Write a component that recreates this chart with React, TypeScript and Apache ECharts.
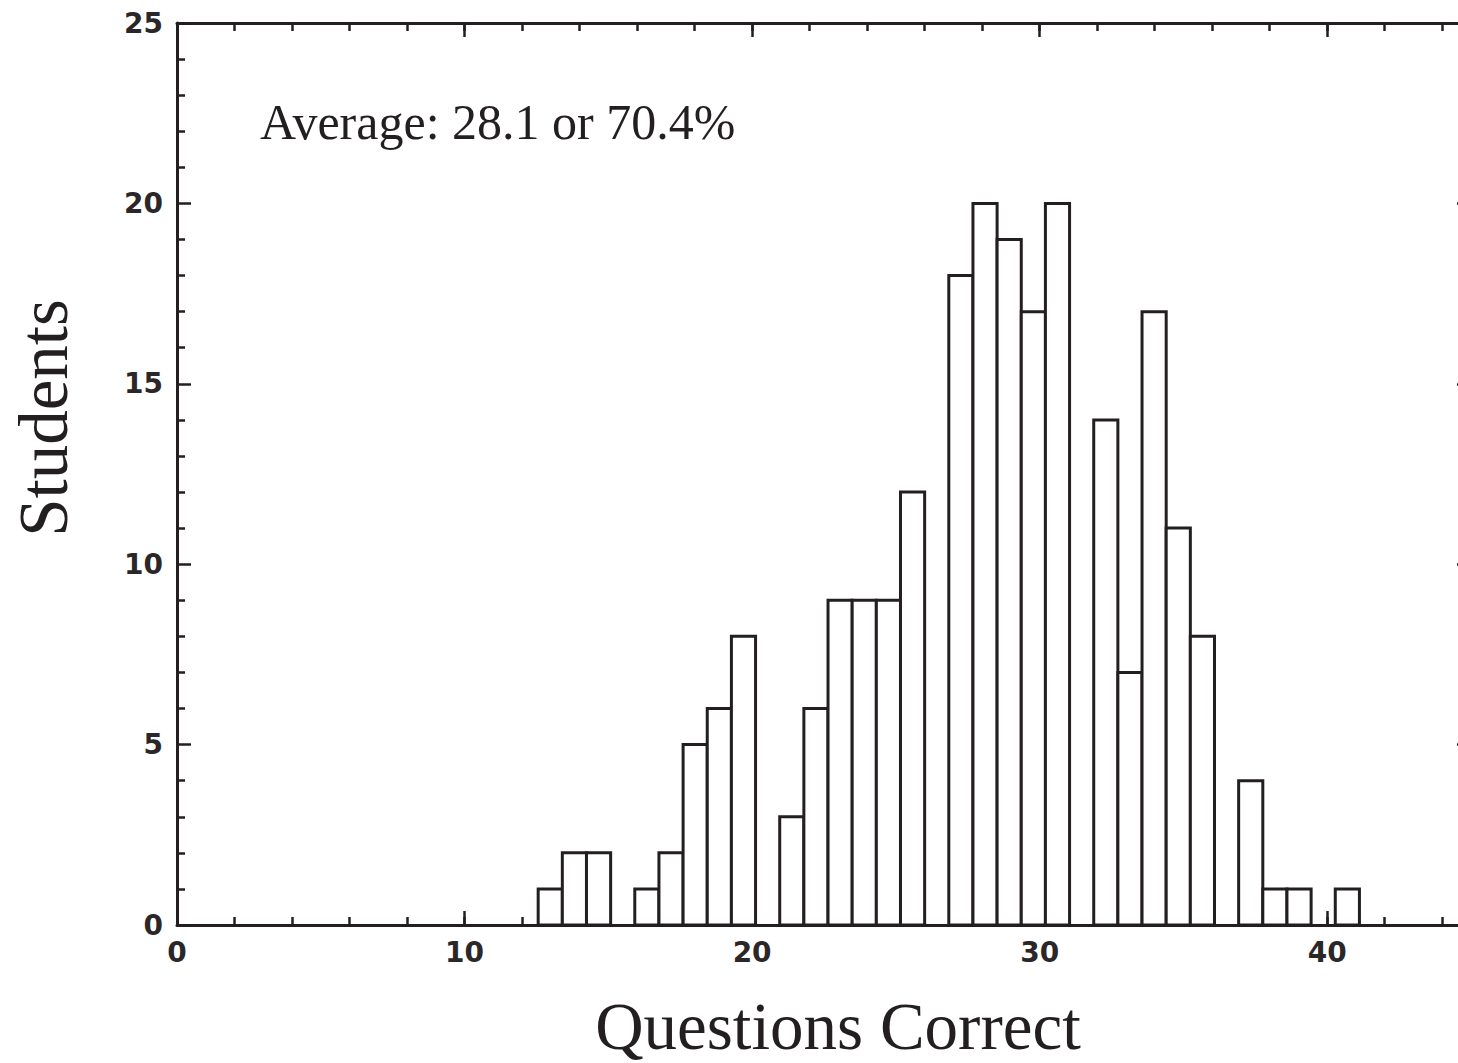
import React, { useEffect, useRef } from "react";
import * as echarts from "echarts";

// Histogram data
const binStart = 12.56;
const binWidth = 0.84;
const counts = [
  1, 2, 2, 0, 1, 2, 5, 6, 8, 0, 3, 6, 9, 9, 9, 12, 0, 18, 20, 19, 17, 20, 0, 14,
  7, 17, 11, 8, 0, 4, 1, 1, 0, 1,
];
const xMin = 0;
const xMax = 45;
const yMin = 0;
const yMax = 25;
const xMajor = 10;
const xMinor = 2;
const yMajor = 5;
const annotation = "Average: 28.1 or 70.4%";
const xTitle = "Questions Correct";
const yTitle = "Students";

export default function App() {
  const ref = useRef<HTMLDivElement>(null);

  useEffect(() => {
    const chart = echarts.init(ref.current!, null, { renderer: "svg" });
    const ink = "#231f20";
    const labelFont = {
      fontFamily: "DejaVu Sans",
      fontSize: 28,
      fontWeight: "bold",
      color: "#2b2728",
    };
    const bins = counts.map((c, i) => [
      binStart + i * binWidth,
      binStart + (i + 1) * binWidth,
      c,
    ]);
    const gridRect = { left: 177, top: 23, width: 1294, height: 902 };

    const majorX = (position: string, labels: boolean) => ({
      type: "value",
      gridIndex: 0,
      position,
      min: xMin,
      max: xMax,
      interval: xMajor,
      axisLine: { show: true, onZero: false, lineStyle: { color: ink, width: 3 } },
      axisTick: { show: true, inside: true, length: 14, lineStyle: { color: ink, width: 2.5 } },
      axisLabel: { show: labels, margin: 13, showMaxLabel: false, ...labelFont },
      splitLine: { show: false },
    });
    const minorX = (position: string) => ({
      type: "value",
      gridIndex: 1,
      position,
      min: xMin,
      max: xMax,
      interval: xMinor,
      axisLine: { show: false },
      axisTick: { show: true, inside: true, length: 8, lineStyle: { color: ink, width: 2.5 } },
      axisLabel: { show: false },
      splitLine: { show: false },
    });
    const yAx = (position: string, labels: boolean) => ({
      type: "value",
      gridIndex: 0,
      position,
      min: yMin,
      max: yMax,
      interval: yMajor,
      axisLine: { show: true, onZero: false, lineStyle: { color: ink, width: 3 } },
      axisTick: { show: true, inside: true, length: 14, lineStyle: { color: ink, width: 2.5 } },
      minorTick: { show: true, splitNumber: 5, length: 8, lineStyle: { color: ink, width: 2.5 } },
      axisLabel: { show: labels, margin: 14, ...labelFont },
      splitLine: { show: false },
    });

    chart.setOption({
      animation: false,
      backgroundColor: "#ffffff",
      grid: [gridRect, gridRect],
      xAxis: [majorX("bottom", true), majorX("top", false), minorX("bottom"), minorX("top")],
      yAxis: [
        yAx("left", true),
        yAx("right", false),
        { type: "value", gridIndex: 1, min: yMin, max: yMax, show: false },
      ],
      series: [
        {
          type: "custom",
          xAxisIndex: 0,
          yAxisIndex: 0,
          data: bins,
          renderItem: (params: any, api: any) => {
            const v = api.value(2);
            if (!v) return null;
            const p0 = api.coord([api.value(0), v]);
            const p1 = api.coord([api.value(1), 0]);
            return {
              type: "rect",
              shape: { x: p0[0], y: p0[1], width: p1[0] - p0[0], height: p1[1] - p0[1] },
              style: { fill: "#ffffff", stroke: ink, lineWidth: 3 },
            };
          },
          z: 1,
        },
      ],
      graphic: [
        {
          type: "text",
          left: 260,
          top: 97,
          style: {
            text: annotation,
            fontFamily: "Liberation Serif",
            fontSize: 50,
            fill: ink,
          },
        },
        {
          type: "text",
          x: 838,
          y: 1026,
          style: {
            text: xTitle,
            fontFamily: "Liberation Serif",
            fontSize: 67,
            fill: ink,
            align: "center",
            verticalAlign: "middle",
          },
        },
        {
          type: "text",
          x: 44,
          y: 418,
          rotation: Math.PI / 2,
          style: {
            text: yTitle,
            fontFamily: "Liberation Serif",
            fontSize: 69,
            fill: ink,
            align: "center",
            verticalAlign: "middle",
          },
        },
      ],
    });
    return () => chart.dispose();
  }, []);

  return (
    <div
      style={{
        position: "fixed",
        left: 0,
        top: 0,
        width: 1458,
        height: 1063,
        overflow: "hidden",
        background: "#fff",
      }}
    >
      <div ref={ref} style={{ width: 1500, height: 1063 }} />
    </div>
  );
}
